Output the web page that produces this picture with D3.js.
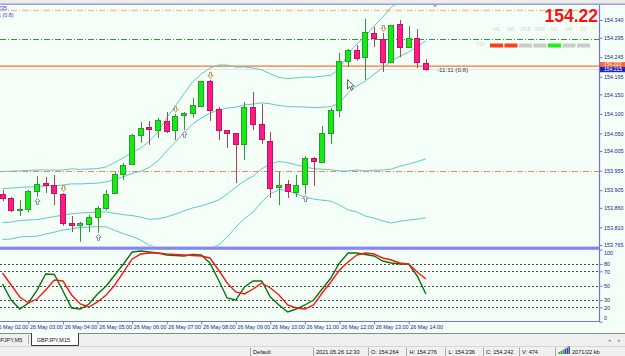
<!DOCTYPE html>
<html><head><meta charset="utf-8">
<script src="https://cdn.jsdelivr.net/npm/d3@7"></script>
<style>html,body{margin:0;padding:0;background:#fff;overflow:hidden}svg{display:block}</style>
</head><body><svg id="c" width="625" height="356"></svg>
<script>
// ---------------- DATA ----------------
const times = ["02:15","02:30","02:45","03:00","03:15","03:30","03:45","04:00","04:15","04:30","04:45","05:00","05:15","05:30","05:45","06:00","06:15","06:30","06:45","07:00","07:15","07:30","07:45","08:00","08:15","08:30","08:45","09:00","09:15","09:30","09:45","10:00","10:15","10:30","10:45","11:00","11:15","11:30","11:45","12:00","12:15","12:30","12:45","13:00","13:15","13:30","13:45","14:00","14:15","14:30"];
const open  = [153.895,153.885,153.854,153.857,153.903,153.923,153.918,153.895,153.821,153.816,153.819,153.837,153.860,153.898,153.946,153.972,154.046,154.067,154.059,154.082,154.059,154.097,154.102,154.120,154.184,154.113,154.059,154.051,154.023,154.118,154.074,154.031,153.913,153.921,153.900,153.921,153.987,153.977,154.051,154.110,154.235,154.264,154.245,154.307,154.291,154.233,154.330,154.271,154.294,154.230];
const high  = [153.906,153.888,153.880,153.906,153.941,153.939,153.944,153.898,153.839,153.824,153.842,153.865,153.906,153.952,153.975,154.049,154.079,154.082,154.090,154.105,154.100,154.105,154.141,154.184,154.187,154.118,154.059,154.051,154.130,154.156,154.125,154.054,153.952,153.931,153.944,153.992,153.990,154.069,154.115,154.256,154.266,154.276,154.343,154.322,154.307,154.327,154.340,154.325,154.317,154.240];
const low   = [153.877,153.849,153.839,153.849,153.888,153.898,153.867,153.814,153.798,153.773,153.798,153.796,153.854,153.895,153.931,153.969,154.026,154.021,154.038,154.051,154.033,154.059,154.090,154.120,154.082,154.033,154.013,153.923,153.982,154.059,154.023,153.885,153.867,153.885,153.888,153.895,153.916,153.975,154.023,154.092,154.220,154.236,154.187,154.271,154.207,154.233,154.245,154.268,154.217,154.210];
const close = [153.885,153.854,153.857,153.903,153.921,153.918,153.898,153.821,153.816,153.821,153.837,153.860,153.895,153.946,153.969,154.046,154.064,154.061,154.084,154.056,154.095,154.102,154.123,154.184,154.110,154.059,154.051,154.023,154.118,154.074,154.036,153.911,153.918,153.903,153.918,153.987,153.980,154.051,154.110,154.235,154.263,154.242,154.309,154.294,154.233,154.327,154.271,154.294,154.233,154.215];
// Bollinger bands (middle line and one standard deviation)
const bbMid = [153.866,153.867,153.870,153.871,153.872,153.875,153.877,153.880,153.883,153.884,153.885,153.886,153.888,153.889,153.891,153.894,153.895,153.897,153.906,153.921,153.936,153.952,153.967,153.977,153.987,153.995,154.005,154.015,154.026,154.033,154.044,154.049,154.050,154.047,154.044,154.041,154.038,154.038,154.038,154.041,154.054,154.064,154.069,154.079,154.087,154.097,154.107,154.115,154.125,154.136];
const bbDev = [0.0434,0.0434,0.0422,0.0422,0.0422,0.0409,0.0396,0.0383,0.0383,0.0371,0.0371,0.0371,0.0383,0.0434,0.0486,0.0537,0.0588,0.0664,0.0741,0.0843,0.0920,0.0997,0.1073,0.1124,0.1150,0.1150,0.1099,0.1022,0.0971,0.0920,0.0843,0.0767,0.0716,0.0716,0.0741,0.0767,0.0779,0.0792,0.0805,0.0869,0.0997,0.1073,0.1150,0.1227,0.1303,0.1380,0.1406,0.1431,0.1469,0.1508];
const bbMult = [2,1,-1,-2];
// Stochastic
const stochMain   = [52.4,30.1,17.6,26.0,44.0,66.3,65.6,42.6,19.0,17.6,24.6,38.5,49.6,64.9,80.1,96.8,98.2,96.8,95.4,92.6,91.9,91.3,93.3,92.6,81.5,57.9,32.9,30.1,48.2,56.5,56.5,34.3,23.2,13.5,17.6,23.2,30.1,45.4,60.7,81.5,95.4,95.4,93.3,91.3,84.3,81.5,80.1,80.1,63.5,38.5];
const stochSignal = [67.6,51.0,34.3,26.0,31.5,44.0,57.9,56.5,37.1,24.6,20.4,27.4,37.1,51.0,69.0,87.1,94.0,95.4,95.4,94.0,93.3,92.6,91.9,91.3,88.5,71.8,53.8,41.3,38.5,45.4,53.8,46.8,37.1,23.2,19.0,17.6,23.2,39.9,55.1,71.8,82.9,92.6,95.4,94.0,88.5,85.7,81.5,80.1,69.0,59.3];
// ticks and levels
const priceTicks = [154.340,154.295,154.245,154.195,154.150,154.100,154.050,154.005,153.955,153.905,153.860,153.810,153.765];
const stochTicks = [100,80,70,50,30,20,0];
const stochLevels = [80,70,50,30,20];
const timeTicks = ["02:00","03:00","04:00","05:00","06:00","07:00","08:00","09:00","10:00","11:00","12:00","13:00","14:00"];
const dashLevels = [154.366,154.292,153.954];
const bidPrice = 154.222;
const lastPrice = 154.215;
const arrowUpIdx = [4,11,21,35];
const arrowDownIdx = [7,20,24,44];
const tfLabels = ["M1","M5","M15","M30","H1","H4","D1"];
const tfState = ["down","down","flat","flat","up","flat","flat"];
const hoverIdx = 41;
const volume = 474;
const timerText = "-11:11 (0.8)";
const bigPrice = "154.22";

// ---------------- CHART ----------------
const W = 625, H = 356;
const BG = "#f4fff7", AXIS = "#7373f2", TXT = "#23238a";
const FONT = "Liberation Sans, Arial, sans-serif";
const svg = d3.select("#c");
svg.append("rect").attr("width", W).attr("height", H).attr("fill", BG);

const parse = d3.timeParse("%Y-%m-%d %H:%M");
const T = times.map(t => parse("2021-05-26 " + t));
const x = d3.scaleTime().domain([T[0], T[T.length - 1]]).range([2.5, 425.9]);
const y = d3.scaleLinear().domain([153.765, 154.340]).range([245, 20]);
const ys = d3.scaleLinear().domain([0, 100]).range([321.7, 249.7]);

// top strip
svg.append("rect").attr("x", 0).attr("y", 0).attr("width", W).attr("height", 3).attr("fill", "#ebebeb");
svg.append("line").attr("x1", 0).attr("x2", W).attr("y1", 3.5).attr("y2", 3.5).attr("stroke", "#c4c4cc");
svg.append("line").attr("x1", 0).attr("x2", W).attr("y1", 4.5).attr("y2", 4.5).attr("stroke", "#9a9ff2");

const defs = svg.append("defs");
defs.append("clipPath").attr("id", "mainClip").append("rect").attr("x", 0).attr("y", 5).attr("width", 599).attr("height", 241.5);
defs.append("clipPath").attr("id", "subClip").append("rect").attr("x", 0).attr("y", 250).attr("width", 599).attr("height", 71);

const main = svg.append("g").attr("clip-path", "url(#mainClip)");

// horizontal level lines
const dashColors = ["#f7bd9f", "#3f8f3f", "#f0845a"];
dashLevels.forEach((p, k) => {
  main.append("line").attr("x1", 0).attr("x2", 599).attr("y1", Math.round(y(p)) + 0.5).attr("y2", Math.round(y(p)) + 0.5)
    .attr("stroke", dashColors[k]).attr("stroke-width", k === 0 ? 1.5 : 1).attr("stroke-dasharray", "6,2,1,2");
});
main.append("line").attr("x1", 0).attr("x2", 599).attr("y1", y(lastPrice) + 0.5).attr("y2", y(lastPrice) + 0.5)
  .attr("stroke", "#d9e3ea").attr("stroke-width", 1);
main.append("line").attr("x1", 0).attr("x2", 599).attr("y1", y(bidPrice)).attr("y2", y(bidPrice))
  .attr("stroke", "#ff6f35").attr("stroke-width", 1.3);

// Bollinger bands
bbMult.forEach(m => {
  const line = d3.line().x((d, i) => x(T[i])).y((d, i) => y(bbMid[i] + m * bbDev[i])).curve(d3.curveLinear);
  main.append("path").datum(bbMid).attr("d", line).attr("fill", "none").attr("stroke", "#62c6c4").attr("stroke-width", 1);
});

// candles
const candles = main.append("g");
T.forEach((t, i) => {
  const px = Math.round(x(t));
  const bull = close[i] >= open[i];
  candles.append("line").attr("x1", px + 0.5).attr("x2", px + 0.5)
    .attr("y1", y(high[i])).attr("y2", y(low[i]))
    .attr("stroke", bull ? "#3b913b" : "#b2414f").attr("stroke-width", 1);
  const top = Math.round(y(Math.max(open[i], close[i]))) + 0.5;
  const bot = Math.round(y(Math.min(open[i], close[i]))) + 0.5;
  candles.append("rect").attr("x", px - 2.5).attr("width", 5)
    .attr("y", top).attr("height", Math.max(bot - top, 1))
    .attr("fill", bull ? "#12ee12" : "#ff1a8a").attr("stroke", bull ? "#2f9a2f" : "#c2145a").attr("stroke-width", 1);
});

// arrows
function arrowPath(cx, y0, up) {
  if (up) return `M${cx},${y0} L${cx + 2.6},${y0 + 3} L${cx + 1},${y0 + 3} L${cx + 1},${y0 + 6} L${cx - 1},${y0 + 6} L${cx - 1},${y0 + 3} L${cx - 2.6},${y0 + 3} Z`;
  return `M${cx},${y0} L${cx + 2.6},${y0 - 3} L${cx + 1},${y0 - 3} L${cx + 1},${y0 - 6} L${cx - 1},${y0 - 6} L${cx - 1},${y0 - 3} L${cx - 2.6},${y0 - 3} Z`;
}
arrowUpIdx.forEach(i => {
  main.append("path").attr("d", arrowPath(Math.round(x(T[i])) + 0.5, y(low[i]) + 1.5, true))
    .attr("fill", "#ffffff").attr("stroke", "#6d7488").attr("stroke-width", 0.8);
});
arrowDownIdx.forEach(i => {
  main.append("path").attr("d", arrowPath(Math.round(x(T[i])) + 0.5, y(high[i]) - 1.5, false))
    .attr("fill", "#fffbea").attr("stroke", "#b4772f").attr("stroke-width", 0.8);
});

// separator between main window and sub window
svg.append("rect").attr("x", 0).attr("y", 246.6).attr("width", 600).attr("height", 3.2).attr("fill", "#8585f4");

// sub-window: stochastic
const sub = svg.append("g").attr("clip-path", "url(#subClip)");
stochLevels.forEach(v => {
  sub.append("line").attr("x1", 0).attr("x2", 599).attr("y1", Math.round(ys(v)) + 0.5).attr("y2", Math.round(ys(v)) + 0.5)
    .attr("stroke", "#333").attr("stroke-width", 0.9).attr("stroke-dasharray", "2,2");
});
const sLine = arr => d3.line().x((d, i) => x(T[i])).y(d => ys(d))(arr);
sub.append("path").attr("d", sLine(stochMain)).attr("fill", "none").attr("stroke", "#0d730d").attr("stroke-width", 1.4);
sub.append("path").attr("d", sLine(stochSignal)).attr("fill", "none").attr("stroke", "#ff1616").attr("stroke-width", 1.4);

// axes lines
svg.append("line").attr("x1", 599.5).attr("x2", 599.5).attr("y1", 5).attr("y2", 322).attr("stroke", AXIS).attr("stroke-width", 1.2);
svg.append("line").attr("x1", 0).attr("x2", 600).attr("y1", 321.5).attr("y2", 321.5).attr("stroke", AXIS).attr("stroke-width", 1);

// price axis
const pAxis = svg.append("g").attr("transform", "translate(599.5,0)")
  .call(d3.axisRight(y).tickValues(priceTicks).tickSize(3).tickPadding(1.5).tickFormat(d3.format(".3f")));
pAxis.select(".domain").remove();
pAxis.selectAll("line").attr("stroke", AXIS);
pAxis.selectAll("text").attr("fill", TXT).attr("font-size", 5.4).attr("font-family", FONT);

// stoch axis
const sAxis = svg.append("g").attr("transform", "translate(599.5,0)")
  .call(d3.axisRight(ys).tickValues(stochTicks).tickSize(3).tickPadding(1.5));
sAxis.select(".domain").remove();
sAxis.selectAll("line").attr("stroke", AXIS);
sAxis.selectAll("text").attr("fill", TXT).attr("font-size", 5.4).attr("font-family", FONT)
  .attr("y", d => d === 100 ? 2.6 : (d === 0 ? -3.6 : 0));

// time axis
const tAxis = svg.append("g").attr("transform", "translate(0,321.5)")
  .call(d3.axisBottom(x).tickValues(timeTicks.map(t => parse("2021-05-26 " + t))).tickSize(3).tickFormat(d3.timeFormat("%d %b %H:%M")));
tAxis.select(".domain").remove();
tAxis.selectAll("line").attr("stroke", AXIS);
tAxis.selectAll("text").attr("fill", TXT).attr("font-size", 5.4).attr("font-family", FONT)
  .attr("text-anchor", "start").attr("x", 1.2).attr("y", 3.2);

// right axis price labels (bid + last)
svg.append("rect").attr("x", 600).attr("y", 62).attr("width", 25).attr("height", 4.8).attr("fill", "#ff6a2a");
svg.append("text").attr("x", 604).attr("y", 65.9).attr("font-size", 4.8).attr("font-family", FONT).attr("fill", "#fff").text(bidPrice.toFixed(3));
svg.append("rect").attr("x", 600).attr("y", 66.8).attr("width", 25).attr("height", 5.4).attr("fill", "#2323c8");
svg.append("text").attr("x", 604).attr("y", 71.3).attr("font-size", 5.0).attr("font-family", FONT).attr("fill", "#fff").text(lastPrice.toFixed(3));

// timer text next to last candle
svg.append("text").attr("x", 437).attr("y", 71.5).attr("font-size", 6.2).attr("font-family", FONT).attr("fill", "#3a3a5a").text(timerText);

// top-left cut labels
svg.append("text").attr("x", 7).attr("y", 10).attr("text-anchor", "end").attr("font-size", 5.4).attr("font-family", FONT).attr("fill", "#3535e0").text("GBPJPY,M15 154.235");
svg.append("text").attr("x", 13.5).attr("y", 17).attr("text-anchor", "end").attr("font-size", 5.4).attr("font-family", FONT).attr("fill", "#3535e0").text("TDI 11:11 (0.8)");

// chart shift marker
svg.append("path").attr("d", "M432.5,4.5 L437.5,4.5 L435,7.5 Z").attr("fill", "#a8a8b0");

// big price
svg.append("text").attr("x", 598).attr("y", 21.6).attr("text-anchor", "end").attr("font-size", 17.5).attr("font-weight", "bold")
  .attr("font-family", FONT).attr("fill", "#f41414").text(bigPrice);

// timeframe panel
const tf = d3.scaleBand().domain(tfLabels).range([490, 590]).paddingInner(0.1);
const tfColor = { down: "#ff3d1c", up: "#1ef01e", flat: "#cbcbcb" };
tfLabels.forEach((l, k) => {
  svg.append("text").attr("x", tf(l) + tf.bandwidth() / 2).attr("y", 31).attr("text-anchor", "middle")
    .attr("font-size", 5.2).attr("font-family", FONT).attr("fill", "#cfd5d5").text(l);
  svg.append("rect").attr("x", tf(l)).attr("y", 43.5).attr("width", tf.bandwidth()).attr("height", 4).attr("fill", tfColor[tfState[k]]);
});
svg.append("text").attr("x", 476).attr("y", 45.5).attr("font-size", 5.4).attr("font-family", FONT).attr("fill", "#cfd5d5").text("TDI");

// mouse cursor
svg.append("path").attr("d", "M347.5,79.5 L347.5,89 L349.8,86.8 L351.3,90.2 L352.8,89.5 L351.3,86.2 L354.3,86.2 Z")
  .attr("fill", "#fff").attr("stroke", "#222").attr("stroke-width", 0.7);

// tab bar
svg.append("rect").attr("x", 0).attr("y", 333).attr("width", W).attr("height", 13).attr("fill", "#f0f0f0");
svg.append("line").attr("x1", 0).attr("x2", W).attr("y1", 333.5).attr("y2", 333.5).attr("stroke", "#8a8a8a");
svg.append("text").attr("x", -7.8).attr("y", 341.8).attr("font-size", 5.5).attr("font-family", FONT).attr("fill", "#222").text("GBPJPY,M5");
svg.append("line").attr("x1", 28.5).attr("x2", 28.5).attr("y1", 335).attr("y2", 344).attr("stroke", "#b0b0b0");
svg.append("path").attr("d", "M31.5,333 L31.5,345.5 L78.5,345.5 L78.5,333").attr("fill", "#ffffff").attr("stroke", "#3a3a3a").attr("stroke-width", 1);
svg.append("text").attr("x", 36.8).attr("y", 341.8).attr("font-size", 5.5).attr("font-family", FONT).attr("fill", "#111").text("GBPJPY,M15");
svg.append("text").attr("x", 609).attr("y", 341.5).attr("text-anchor", "middle").attr("font-size", 4.5).attr("font-family", FONT).attr("fill", "#888").text("◂");
svg.append("text").attr("x", 619).attr("y", 341.5).attr("text-anchor", "middle").attr("font-size", 4.5).attr("font-family", FONT).attr("fill", "#888").text("▸");

// status bar
svg.append("rect").attr("x", 0).attr("y", 346).attr("width", W).attr("height", 10).attr("fill", "#f0f0f0");
svg.append("line").attr("x1", 0).attr("x2", W).attr("y1", 346.5).attr("y2", 346.5).attr("stroke", "#d6d6d6");
[250.5, 313.5, 368.5, 406.5, 445.5, 483.5, 519.5, 555.5].forEach(sx => {
  svg.append("line").attr("x1", sx).attr("x2", sx).attr("y1", 347.5).attr("y2", 356).attr("stroke", "#a8a8a8");
});
const f3 = d3.format(".3f");
const statusItems = [
  [253, "Default"],
  [316, "2021.05.26 " + times[hoverIdx]],
  [371, "O: " + f3(open[hoverIdx])],
  [409.5, "H: " + f3(high[hoverIdx])],
  [448.5, "L: " + f3(low[hoverIdx])],
  [486, "C: " + f3(close[hoverIdx])],
  [522, "V: " + volume],
  [572, "2071/22 kb"]
];
statusItems.forEach(([sx, t]) => {
  svg.append("text").attr("x", sx).attr("y", 354.2).attr("font-size", 5.6).attr("font-family", FONT).attr("fill", "#111").text(t);
});
// connection icon
[0, 1, 2, 3, 4, 5].forEach(k => {
  svg.append("rect").attr("x", 558.5 + k * 2).attr("y", 354 - (2 + k * 1.1)).attr("width", 1.4).attr("height", 2 + k * 1.1)
    .attr("fill", k < 3 ? "#2a9a2a" : "#1f3f9a");
});
</script>
</body></html>
